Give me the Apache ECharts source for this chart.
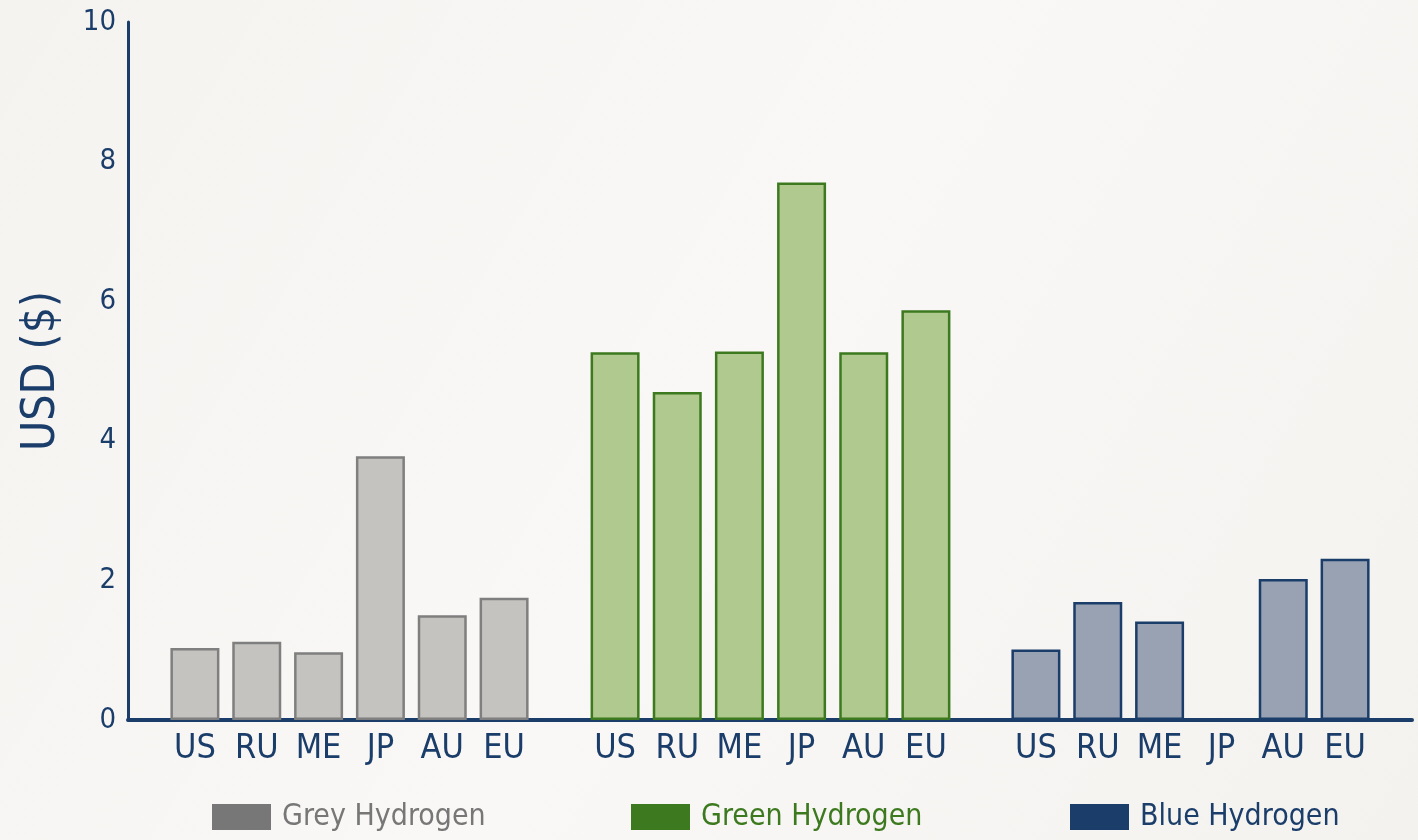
<!DOCTYPE html>
<html>
<head>
<meta charset="utf-8">
<script src="https://cdn.jsdelivr.net/npm/echarts@6/dist/echarts.min.js"></script>
<style>
  html, body { margin: 0; padding: 0; background: #f7f5f2; }
  #chart { width: 1418px; height: 840px; }
</style>
</head>
<body>
<div id="chart"></div>
<script>
// Hydrogen production cost per kg by region (USD)
const regions = ['US', 'RU', 'ME', 'JP', 'AU', 'EU'];
const seriesNames = ['Grey Hydrogen', 'Green Hydrogen', 'Blue Hydrogen'];
const greyValues = [1.03, 1.12, 0.97, 3.78, 1.5, 1.75];
const greenValues = [5.27, 4.7, 5.28, 7.7, 5.27, 5.87];
const blueValues = [1.01, 1.69, 1.41, null, 2.02, 2.31];
const yTicks = [0, 2, 4, 6, 8, 10];

const FONT = "'Liberation Sans Narrow', 'DejaVu Sans Condensed', 'Liberation Sans', sans-serif";
const NAVY = '#1b3d6a';

const groups = [
  { name: seriesNames[0], values: greyValues,  fill: '#c4c3bf', stroke: '#7f7f7f', key: '#777777', left: 164, width: 371, legendLeft: 212 },
  { name: seriesNames[1], values: greenValues, fill: '#afc98e', stroke: '#3d7a1f', key: '#3d7a1f', left: 584, width: 373, legendLeft: 631 },
  { name: seriesNames[2], values: blueValues,  fill: '#98a2b3', stroke: '#1b3d6a', key: '#1b3d6a', left: 1005, width: 371, legendLeft: 1070 }
];

const TOP = 22, BOTTOM = 120;

const grid = [{ left: 128, right: 6, top: TOP, bottom: BOTTOM }];
const xAxis = [{
  gridIndex: 0, type: 'value', min: 0, max: 1,
  axisLine: { show: true, lineStyle: { color: NAVY, width: 4 } },
  axisTick: { show: false }, axisLabel: { show: false }, splitLine: { show: false }
}];
const yAxis = [{
  gridIndex: 0, type: 'value', min: yTicks[0], max: yTicks[yTicks.length - 1], interval: yTicks[1] - yTicks[0],
  name: 'USD ($)', nameLocation: 'middle', nameGap: 63,
  nameTextStyle: { color: NAVY, fontSize: 46, fontFamily: FONT },
  axisLine: { show: true, lineStyle: { color: NAVY, width: 3 } },
  axisTick: { show: false },
  axisLabel: { color: NAVY, fontSize: 29, fontFamily: FONT, margin: 12 },
  splitLine: { show: false }
}];
const series = [];
const legend = [];

groups.forEach((g, i) => {
  const gi = i + 1;
  grid.push({ left: g.left, width: g.width, top: TOP, bottom: BOTTOM });
  xAxis.push({
    gridIndex: gi, type: 'category', data: regions,
    axisLine: { show: false }, axisTick: { show: false },
    axisLabel: { color: NAVY, fontSize: 34, fontFamily: FONT, margin: 12, interval: 0 }
  });
  yAxis.push({
    gridIndex: gi, type: 'value', min: 0, max: 10, show: false
  });
  series.push({
    name: g.name, type: 'bar', xAxisIndex: gi, yAxisIndex: gi,
    data: g.values, barWidth: 49,
    itemStyle: { color: g.fill, borderColor: g.stroke, borderWidth: 2.5 }
  });
  legend.push({
    left: g.legendLeft, top: 802, padding: 0, itemWidth: 59, itemHeight: 26, itemGap: 10,
    icon: 'rect',
    data: [{ name: g.name, itemStyle: { color: g.key, borderWidth: 0 } }],
    textStyle: { color: g.key, fontSize: 30, fontFamily: FONT, padding: [0, 0, 0, 6] },
    selectedMode: false
  });
});

const chart = echarts.init(document.getElementById('chart'), null, { renderer: 'canvas' });
chart.setOption({
  backgroundColor: {
    type: 'linear', x: 0, y: 0, x2: 1, y2: 1,
    colorStops: [
      { offset: 0, color: '#f5f3f0' },
      { offset: 0.5, color: '#faf8f6' },
      { offset: 1, color: '#f4f2ef' }
    ]
  },
  animation: false,
  grid, xAxis, yAxis, series, legend
});
</script>
</body>
</html>
